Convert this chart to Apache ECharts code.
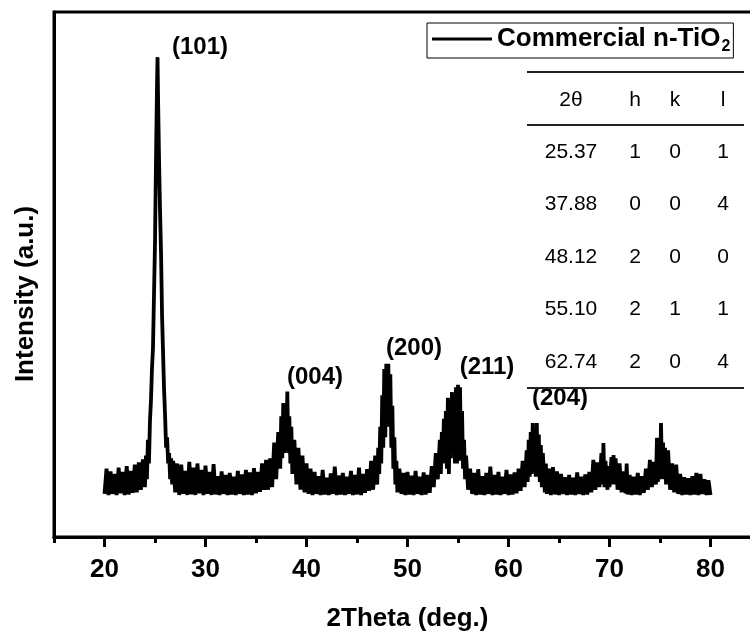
<!DOCTYPE html>
<html>
<head>
<meta charset="utf-8">
<script src="https://cdn.jsdelivr.net/npm/echarts@6/dist/echarts.min.js"></script>
<style>
  html, body { margin: 0; padding: 0; background: #fff; }
  #chart { width: 750px; height: 632px; }
</style>
</head>
<body>
<div id="chart"></div>
<script>
// XRD pattern of commercial n-TiO2, values as [2theta, intensity(a.u.)]
const scan20to27 = [
  [20.0, 8.2], [20.2, 13], [20.4, 8], [20.6, 12.5], [20.8, 8.2], [21.0, 12], [21.2, 8], [21.4, 13.2],
  [21.6, 8.3], [21.8, 12.4], [22.0, 8], [22.2, 13.5], [22.4, 8.1], [22.6, 12.6], [22.8, 8.4], [23.0, 13.8],
  [23.2, 8.5], [23.4, 14.2], [23.6, 9], [23.8, 14.8], [24.0, 9.5], [24.1, 15.5], [24.2, 11], [24.3, 18.5],
  [24.4, 14], [24.5, 22], [24.6, 26], [24.7, 32], [24.8, 36], [24.9, 46], [25.0, 56], [25.1, 72],
  [25.2, 86], [25.25, 91.4], [25.3, 84], [25.4, 72], [25.5, 62], [25.6, 54], [25.7, 42], [25.8, 35],
  [25.9, 28], [26.0, 23], [26.1, 17], [26.2, 19], [26.3, 14], [26.4, 16], [26.5, 11], [26.6, 15],
  [26.7, 10], [26.8, 14.5], [27.0, 8.5], [27.2, 14]
];
const scan27to36 = [
  [27.4, 8], [27.6, 13.8], [27.8, 8.2], [28.0, 12.6], [28.2, 8], [28.4, 14.3], [28.6, 8.1], [28.8, 13.2],
  [29.0, 8], [29.2, 14], [29.4, 8.3], [29.6, 12.8], [29.8, 8], [30.0, 13.6], [30.2, 8.2], [30.4, 12.4],
  [30.6, 8], [30.8, 13.9], [31.0, 8.1], [31.2, 11.6], [31.4, 8], [31.6, 12.5], [31.8, 8.2], [32.0, 11.8],
  [32.2, 8], [32.4, 12.2], [32.6, 8.1], [32.8, 11.5], [33.0, 8], [33.2, 12.6], [33.4, 8.2], [33.6, 11.9],
  [33.8, 8], [34.0, 12.8], [34.2, 8.1], [34.4, 12.3], [34.6, 8], [34.8, 13.1], [35.0, 8.3], [35.2, 12.4],
  [35.4, 8.6], [35.6, 14], [35.8, 9], [36.0, 14.7]
];
const scan36to40 = [
  [36.2, 9], [36.4, 15], [36.6, 9.5], [36.8, 18], [37.0, 11], [37.2, 20], [37.4, 13], [37.5, 23],
  [37.6, 15], [37.7, 25.5], [37.8, 16], [37.9, 25], [38.0, 16.5], [38.1, 27.7], [38.2, 16], [38.3, 23],
  [38.4, 14], [38.5, 21], [38.6, 12], [38.8, 18.5], [39.0, 10], [39.2, 17], [39.4, 9], [39.6, 15.5],
  [39.8, 8.5], [40.0, 14], [40.2, 8.2], [40.4, 13]
];
const scan40to46 = [
  [40.6, 8], [40.8, 12.4], [41.0, 8.2], [41.2, 11.6], [41.4, 8], [41.6, 12.8], [41.8, 8.1], [42.0, 11.3],
  [42.2, 8], [42.4, 12.1], [42.6, 8.2], [42.8, 13.4], [43.0, 8], [43.2, 11.7], [43.4, 8.1], [43.6, 12.2],
  [43.8, 8], [44.0, 11.5], [44.2, 8.2], [44.4, 12.6], [44.6, 8], [44.8, 11.8], [45.0, 8.1], [45.2, 13.2],
  [45.4, 8], [45.6, 12], [45.8, 8.4], [46.0, 12.9], [46.2, 8.8], [46.4, 14.5]
];
const scan46to50 = [
  [46.6, 9], [46.8, 15.5], [47.0, 10], [47.1, 17], [47.2, 12], [47.3, 21], [47.4, 14], [47.5, 27],
  [47.6, 17], [47.7, 32], [47.8, 19], [47.9, 33], [48.0, 21], [48.1, 33], [48.2, 21], [48.3, 31],
  [48.4, 17], [48.5, 25], [48.6, 13], [48.7, 19], [48.8, 10], [48.9, 14.5], [49.0, 8.5], [49.2, 13],
  [49.4, 8.2], [49.6, 12.2], [49.8, 8]
];
const scan50to53 = [
  [50.0, 12.4], [50.2, 8.1], [50.4, 11.7], [50.6, 8], [50.8, 12.6], [51.0, 8.2], [51.2, 11.5], [51.4, 8],
  [51.6, 12.3], [51.8, 8.1], [52.0, 11.8], [52.2, 8.4], [52.4, 13.5], [52.6, 9.5]
];
const scan53to57 = [
  [52.8, 16], [53.0, 11], [53.2, 18.5], [53.3, 12], [53.4, 20], [53.5, 14], [53.6, 22.5], [53.7, 15],
  [53.8, 24], [53.9, 13], [54.0, 26.5], [54.1, 12], [54.2, 26], [54.3, 15], [54.4, 27.6], [54.5, 16],
  [54.6, 27], [54.7, 14], [54.8, 28.5], [54.9, 14], [55.0, 29], [55.1, 14.5], [55.2, 28.5], [55.3, 15],
  [55.4, 24], [55.5, 13], [55.6, 18.5], [55.7, 11], [55.8, 15.5], [56.0, 9], [56.2, 13], [56.4, 8.2],
  [56.6, 12.2]
];
const scan57to61 = [
  [56.8, 8], [57.0, 12.9], [57.2, 8.1], [57.4, 11.6], [57.6, 8], [57.8, 12.2], [58.0, 8.2], [58.2, 13.4],
  [58.4, 8], [58.6, 11.8], [58.8, 8.1], [59.0, 12.4], [59.2, 8], [59.4, 11.5], [59.6, 8.2], [59.8, 12.8],
  [60.0, 8], [60.2, 11.9], [60.4, 8.1], [60.6, 12.3], [60.8, 8.3], [61.0, 13]
];
const scan61to64 = [
  [61.2, 8.8], [61.4, 14.5], [61.6, 9.5], [61.8, 16.5], [61.9, 10.5], [62.0, 18.5], [62.1, 11.5], [62.2, 20],
  [62.3, 12], [62.4, 21.7], [62.5, 12.5], [62.6, 20.5], [62.7, 11.5], [62.8, 21.7], [62.9, 11.5], [63.0, 19.5],
  [63.1, 10.5], [63.2, 17.5], [63.3, 9.5], [63.4, 16], [63.6, 8.5], [63.7, 14], [63.8, 8.2], [64.0, 13]
];
const scan64to68 = [
  [64.2, 8], [64.4, 13.3], [64.6, 8.1], [64.8, 12.5], [65.0, 8], [65.2, 12], [65.4, 8.2], [65.6, 11.4],
  [65.8, 8], [66.0, 11.8], [66.2, 8.1], [66.4, 11.3], [66.6, 8], [66.8, 12.3], [67.0, 8.2], [67.2, 11.5],
  [67.4, 8], [67.6, 11.9], [67.8, 8.1], [68.0, 12.4], [68.2, 8.5]
];
const scan68to72 = [
  [68.4, 14.7], [68.6, 9], [68.8, 14.2], [69.0, 9.5], [69.2, 16], [69.3, 10], [69.4, 17.9], [69.5, 9.5],
  [69.6, 14.5], [69.8, 9], [69.9, 13.5], [70.0, 9.5], [70.2, 15.2], [70.3, 10], [70.4, 15.6], [70.5, 10],
  [70.6, 15], [70.8, 9], [71.0, 14], [71.2, 8.5], [71.4, 12.5], [71.6, 8.3], [71.7, 14], [71.8, 8.1],
  [72.0, 11.8]
];
const scan72to77 = [
  [72.2, 8], [72.4, 11.5], [72.6, 8.1], [72.8, 12.2], [73.0, 8], [73.2, 11.6], [73.4, 8.4], [73.6, 13],
  [73.8, 9], [74.0, 14.7], [74.2, 9.5], [74.4, 14.3], [74.6, 10], [74.7, 18.9], [74.8, 10.5], [74.9, 17],
  [75.0, 11], [75.1, 21.7], [75.2, 11.2], [75.3, 18], [75.4, 11], [75.5, 17], [75.6, 10], [75.8, 16.5],
  [76.0, 9], [76.2, 14], [76.4, 8.5], [76.6, 13.8], [76.8, 8.2], [77.0, 12]
];
const scan77to80 = [
  [77.2, 8], [77.4, 11.4], [77.6, 8.1], [77.8, 11.2], [78.0, 8], [78.2, 11.6], [78.4, 8.1], [78.6, 12.2],
  [78.8, 8], [79.0, 12], [79.2, 8.2], [79.4, 11], [79.6, 8], [79.8, 10.8], [80.0, 8]
];

const majorTicks = [20, 30, 40, 50, 60, 70, 80];
const minorTicks = [15, 25, 35, 45, 55, 65, 75, 85];

// peak labels and reference table
const peakNames = ['(101)', '(004)', '(200)', '(211)', '(204)'];
const tableHeader = ['2θ', 'h', 'k', 'l'];
const tableTheta = ['25.37', '37.88', '48.12', '55.10', '62.74'];
const tableH = ['1', '0', '2', '2', '2'];
const tableK = ['0', '0', '0', '1', '0'];
const tableL = ['1', '4', '0', '1', '4'];

const pattern = [].concat(
  scan20to27, scan27to36, scan36to40, scan40to46, scan46to50, scan50to53, scan53to57,
  scan57to61, scan61to64, scan64to68, scan68to72, scan72to77, scan77to80
);

const FONT = "'Liberation Sans', Arial, sans-serif";
const chart = echarts.init(document.getElementById('chart'));

// label anchors (pixel, centre of text)
const peakPos = [[200, 47], [315, 377], [414, 348], [487, 367], [560, 398]];
const colX = [571, 635, 675, 723];

const graphics = [];
peakNames.forEach((t, i) => {
  graphics.push({
    type: 'text', x: peakPos[i][0], y: peakPos[i][1],
    style: { text: t, font: 'bold 24px ' + FONT, fill: '#000', textAlign: 'center', textVerticalAlign: 'middle' }
  });
});
// y axis title, set a little below the grid centre as in the original
graphics.push({
  type: 'text', x: 26, y: 294, rotation: Math.PI / 2,
  style: { text: 'Intensity (a.u.)', font: 'bold 26px ' + FONT, fill: '#000', textAlign: 'center', textVerticalAlign: 'middle' }
});
// table rules
[72, 125, 388].forEach(y => {
  graphics.push({ type: 'line', shape: { x1: 527, y1: y, x2: 744, y2: y }, style: { stroke: '#222', lineWidth: 2 } });
});
tableHeader.forEach((t, j) => {
  graphics.push({
    type: 'text', x: colX[j], y: 100,
    style: { text: t, font: '21px ' + FONT, fill: '#000', textAlign: 'center', textVerticalAlign: 'middle' }
  });
});
tableTheta.forEach((t, i) => {
  const row = [t, tableH[i], tableK[i], tableL[i]];
  row.forEach((v, j) => {
    graphics.push({
      type: 'text', x: colX[j], y: 152 + i * 52.5,
      style: { text: v, font: '21px ' + FONT, fill: '#000', textAlign: 'center', textVerticalAlign: 'middle' }
    });
  });
});

const option = {
  animation: false,
  backgroundColor: '#fff',
  grid: {
    left: 54, top: 12, width: 707, bottom: 95,
    outerBoundsMode: 'none', containLabel: false,
    show: true, borderColor: '#000', borderWidth: 3, backgroundColor: 'transparent'
  },
  legend: {
    left: 427, top: 23,
    icon: 'rect', itemWidth: 60, itemHeight: 3,
    borderColor: '#000', borderWidth: 1, padding: [3, 3, 3, 5],
    formatter: () => '{m|Commercial n-TiO}{s|2}',
    textStyle: {
      color: '#000',
      rich: {
        m: { fontFamily: FONT, fontSize: 26, fontWeight: 'bold', color: '#000' },
        s: { fontFamily: FONT, fontSize: 16, fontWeight: 'bold', color: '#000', padding: [16, 0, 0, 1] }
      }
    }
  },
  xAxis: [
    {
      type: 'value', min: 15, max: 85,
      name: '2Theta (deg.)', nameLocation: 'middle', nameGap: 69,
      nameTextStyle: { fontFamily: FONT, fontSize: 26, fontWeight: 'bold', color: '#000' },
      axisLine: { show: true, lineStyle: { color: '#000', width: 3 } },
      axisTick: { show: true, customValues: majorTicks, length: 10, lineStyle: { color: '#000', width: 3 } },
      axisLabel: { show: true, customValues: majorTicks, margin: 20, fontFamily: FONT, fontSize: 26, fontWeight: 'bold', color: '#000' },
      splitLine: { show: false }
    },
    {
      type: 'value', min: 15, max: 85, position: 'bottom',
      axisLine: { show: false },
      axisTick: { show: true, customValues: minorTicks, length: 6, lineStyle: { color: '#000', width: 3 } },
      axisLabel: { show: false },
      splitLine: { show: false }
    }
  ],
  yAxis: {
    type: 'value', min: 0, max: 100,
    axisLine: { show: true, lineStyle: { color: '#000', width: 3 } },
    axisTick: { show: false },
    axisLabel: { show: false },
    splitLine: { show: false }
  },
  series: [
    {
      name: 'Commercial n-TiO2',
      type: 'line',
      xAxisIndex: 0,
      data: pattern,
      showSymbol: false,
      symbol: 'none',
      lineStyle: { color: '#000', width: 3.8 },
      itemStyle: { color: '#000' }
    }
  ],
  graphic: graphics
};

chart.setOption(option);
</script>
</body>
</html>
